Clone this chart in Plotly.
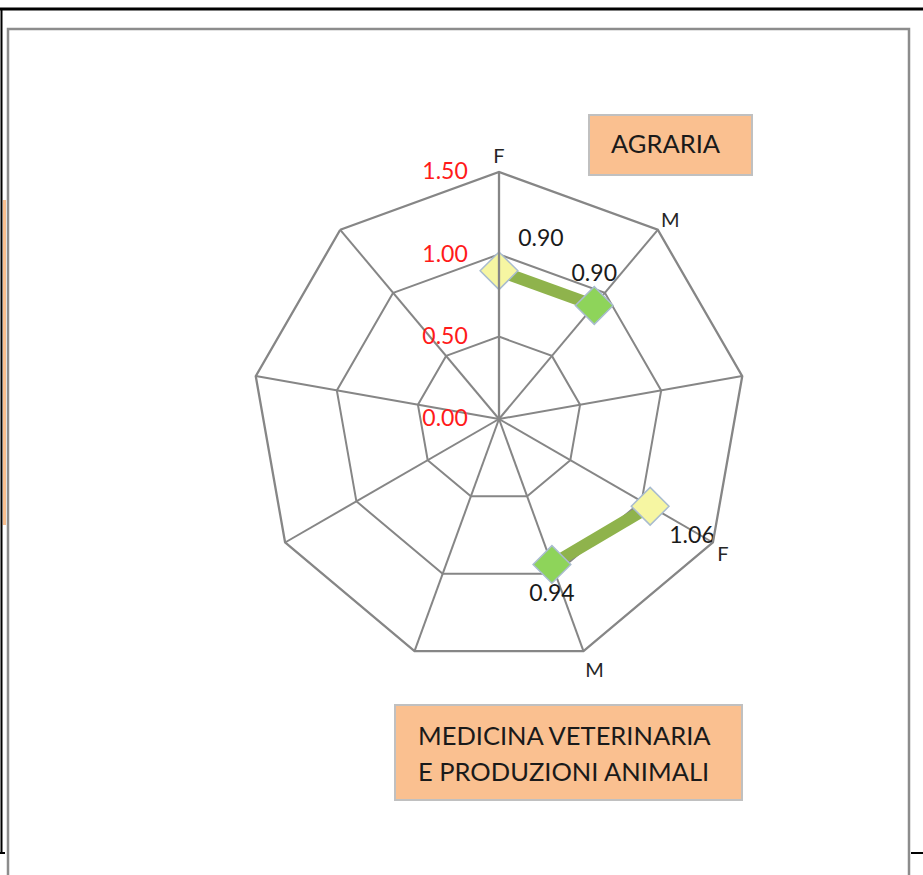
import plotly.graph_objects as go

W, H = 923, 875

# ---- data ----
categories = ["F1", "M1", "c3", "F2", "M2", "c6", "c7", "c8", "c9"]
category_labels = ["F", "M", "", "F", "M", "", "", "", ""]
agraria_theta = ["F1", "M1"]
agraria_values = [0.90, 0.90]
vet_theta = ["F2", "M2"]
vet_values = [1.06, 0.94]
radial_ticks = [0.0, 0.5, 1.0, 1.5]
box_agraria = "AGRARIA"
box_vet = ["MEDICINA VETERINARIA", "E PRODUZIONI ANIMALI"]

GRID = "#868686"
LINE_GREEN = "#8fb34c"
MARKER_COLORS = ["#f6f6a2", "#8ed45a"]
FONT = "Lato"

def px_x(x):
    return x / W

def px_y(y):
    return 1 - y / H

fig = go.Figure()

# invisible trace to register all categories in order
fig.add_trace(go.Scatterpolar(
    r=[None] * len(categories), theta=categories, mode="markers",
    marker=dict(opacity=0), showlegend=False, hoverinfo="skip"))

for theta, vals, positions in [
    (agraria_theta, agraria_values, ["top right", "top center"]),
    (vet_theta, vet_values, ["bottom right", "bottom center"]),
]:
    fig.add_trace(go.Scatterpolar(
        r=vals, theta=theta, mode="lines+markers+text",
        line=dict(color=LINE_GREEN, width=12),
        marker=dict(symbol="diamond", size=29, color=MARKER_COLORS,
                    line=dict(color="#a9bccf", width=1.5)),
        text=[f"{v:.2f}" for v in vals],
        textposition=positions,
        textfont=dict(family=FONT, size=23, color="#1a1a1a"),
        showlegend=False, cliponaxis=False))

cx, cy, R = 499, 419, 247
fig.update_layout(
    width=W, height=H,
    margin=dict(l=0, r=0, t=0, b=0),
    paper_bgcolor="white",
    polar=dict(
        domain=dict(x=[px_x(cx - R), px_x(cx + R)], y=[px_y(cy + R), px_y(cy - R)]),
        bgcolor="white",
        gridshape="linear",
        angularaxis=dict(
            type="category", categoryorder="array", categoryarray=categories,
            rotation=90, direction="clockwise",
            tickmode="array", tickvals=categories, ticktext=category_labels,
            showline=True, linecolor=GRID, linewidth=2.3,
            showgrid=True, gridcolor=GRID, gridwidth=2.3,
            ticks="", tickfont=dict(family=FONT, size=20, color="#262626"),
        ),
        radialaxis=dict(
            range=[0, 1.5], tickmode="array", tickvals=radial_ticks,
            tickformat=".2f", angle=90, tickangle=90, side="counterclockwise",
            ticks="outside", ticklen=22, tickcolor="rgba(0,0,0,0)",
            showline=True, linecolor=GRID, linewidth=2.3,
            showgrid=True, gridcolor=GRID, gridwidth=2.3,
            tickfont=dict(family=FONT, size=23, color="#ff1a1a"),
        ),
    ),
)

shapes = []
# page decorations
shapes.append(dict(type="line", xref="paper", yref="paper", x0=0, x1=1,
                   y0=px_y(9), y1=px_y(9), line=dict(color="black", width=3)))
shapes.append(dict(type="line", xref="paper", yref="paper", x0=px_x(1.5), x1=px_x(1.5),
                   y0=px_y(9), y1=px_y(853), line=dict(color="black", width=2)))
shapes.append(dict(type="rect", xref="paper", yref="paper", x0=px_x(3), x1=px_x(6),
                   y0=px_y(200), y1=px_y(525), fillcolor="#f9bf8f", line=dict(width=0)))
shapes.append(dict(type="line", xref="paper", yref="paper", x0=0, x1=px_x(5),
                   y0=px_y(853), y1=px_y(853), line=dict(color="black", width=2)))
shapes.append(dict(type="line", xref="paper", yref="paper", x0=px_x(911), x1=1,
                   y0=px_y(853), y1=px_y(853), line=dict(color="black", width=2)))
# chart frame
shapes.append(dict(type="rect", xref="paper", yref="paper", x0=px_x(8), x1=px_x(909),
                   y0=px_y(880), y1=px_y(29), line=dict(color="#8c8c8c", width=2.5)))
# text boxes
shapes.append(dict(type="rect", xref="paper", yref="paper", x0=px_x(589), x1=px_x(752),
                   y0=px_y(175), y1=px_y(115), fillcolor="#fac090",
                   line=dict(color="#c0c0c0", width=2)))
shapes.append(dict(type="rect", xref="paper", yref="paper", x0=px_x(395), x1=px_x(742),
                   y0=px_y(800), y1=px_y(705), fillcolor="#fac090",
                   line=dict(color="#c0c0c0", width=2)))
fig.update_layout(shapes=shapes)

annos = [
    dict(text=box_agraria, x=px_x(609), y=px_y(143)),
    dict(text=box_vet[0], x=px_x(416), y=px_y(735)),
    dict(text=box_vet[1], x=px_x(416), y=px_y(771)),
]
for a in annos:
    fig.add_annotation(xref="paper", yref="paper", xanchor="left", yanchor="middle",
                       showarrow=False, font=dict(family=FONT, size=25.5, color="#1a1a1a"), **a)

fig.write_html("out.html", config={"displayModeBar": False},
               post_script="document.body.style.margin='0';document.body.style.overflow='hidden';")
